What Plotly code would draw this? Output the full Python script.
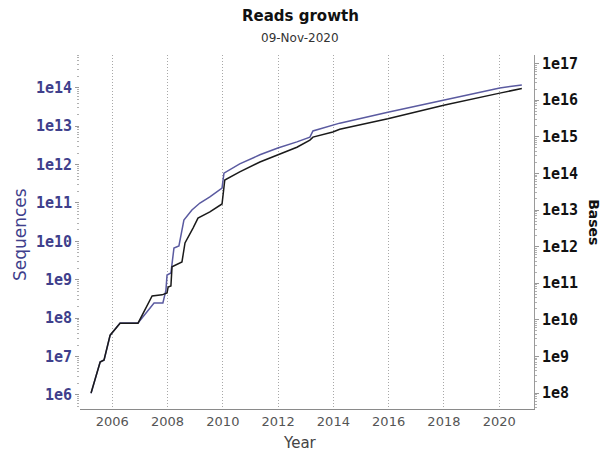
import plotly.graph_objects as go

# Cumulative sequences (left axis)
seq_years = [2005.23, 2005.56, 2005.70, 2005.92, 2006.28, 2006.93, 2007.51, 2007.83,
             2007.94, 2007.98, 2008.12, 2008.23, 2008.41, 2008.59, 2008.88, 2009.17,
             2009.53, 2009.97, 2010.04, 2010.61, 2011.34, 2011.99, 2012.68, 2013.15,
             2013.26, 2013.98, 2014.23, 2015.97, 2017.49, 2018.03, 2020.02, 2020.82]
seq_counts = [1.1e6, 7.3e6, 8.1e6, 3.6e7, 7.5e7, 7.5e7, 2.5e8, 2.5e8,
              5.4e8, 1.33e9, 1.5e9, 6.7e9, 7.6e9, 3.6e10, 6.6e10, 1.0e11,
              1.44e11, 2.46e11, 6.0e11, 1.04e12, 1.8e12, 2.7e12, 3.9e12, 5.2e12,
              7.5e12, 1.07e13, 1.2e13, 2.3e13, 4.0e13, 4.8e13, 9.9e13, 1.18e14]

# Cumulative bases (right axis)
base_years = [2005.23, 2005.56, 2005.70, 2005.92, 2006.28, 2006.93, 2007.44, 2007.80,
              2007.98, 2008.02, 2008.12, 2008.16, 2008.52, 2008.63, 2008.92, 2009.10,
              2009.53, 2009.97, 2010.07, 2010.61, 2011.34, 2011.99, 2012.68, 2013.15,
              2013.26, 2013.98, 2014.23, 2015.97, 2017.49, 2018.03, 2020.02, 2020.82]
base_counts = [1.0e8, 7.0e8, 8.0e8, 3.8e9, 8.1e9, 8.1e9, 4.5e10, 4.8e10,
               5.4e10, 7.9e10, 8.4e10, 2.8e11, 3.8e11, 1.26e12, 3.2e12, 6.0e12,
               8.9e12, 1.46e13, 6.6e13, 1.1e14, 2.05e14, 3.2e14, 5.2e14, 8.1e14,
               9.8e14, 1.35e15, 1.6e15, 3.1e15, 5.8e15, 7.4e15, 1.56e16, 2.1e16]

year_ticks = [2006, 2008, 2010, 2012, 2014, 2016, 2018, 2020]
seq_exponents = list(range(6, 15))
base_exponents = list(range(8, 18))

SEQ_RANGE = [5.635, 14.854]
BASE_RANGE = [7.563, 17.235]

SEQ_COLOR = "#5a5aa0"
SEQ_TEXT = "#3f3f8c"
TICK_GREY = "#999999"


def minor_values(exponents):
    vals = []
    for e in list(exponents) + [exponents[-1] + 1]:
        for m in range(2, 10):
            vals.append(m * 10 ** (e - 1))
    return vals


fig = go.Figure()
fig.add_trace(go.Scatter(x=base_years, y=base_counts, yaxis="y2", mode="lines",
                         line=dict(color="#1a1a1a", width=1.5), name="Bases"))
fig.add_trace(go.Scatter(x=seq_years, y=seq_counts, mode="lines",
                         line=dict(color=SEQ_COLOR, width=1.5), name="Sequences"))

mono = dict(family="DejaVu Sans Mono", size=15, weight="bold")

fig.update_layout(
    width=602, height=452,
    margin=dict(l=80, r=68, t=55, b=43),
    paper_bgcolor="white", plot_bgcolor="white",
    showlegend=False,
    font=dict(family="DejaVu Sans"),
    xaxis=dict(
        range=[2004.83, 2021.26],
        tickvals=year_ticks, ticktext=[str(y) for y in year_ticks],
        tickfont=dict(size=13, color="#555555"),
        showgrid=True, gridcolor="#a8a8a8", griddash="1px,2px", gridwidth=1,
        showline=True, linecolor="#8a8a8a", linewidth=1,
        ticks="", zeroline=False,
    ),
    yaxis=dict(
        type="log", range=SEQ_RANGE,
        tickvals=[10 ** e for e in seq_exponents],
        ticktext=[f"1e{e}" for e in seq_exponents],
        tickfont=dict(mono, color=SEQ_TEXT),
        showgrid=False, zeroline=False, showline=False,
        ticks="outside", ticklen=4, tickcolor=TICK_GREY,
    ),
    yaxis2=dict(
        type="log", range=BASE_RANGE, overlaying="y", side="right",
        tickvals=[10 ** e for e in base_exponents],
        ticktext=[f"1e{e}" for e in base_exponents],
        tickfont=dict(mono, color="#111111"),
        showgrid=False, zeroline=False,
        showline=True, linecolor="#9a9a9a", linewidth=1,
        ticks="outside", ticklen=4, tickcolor=TICK_GREY,
    ),
    # minor log ticks on both value axes
    yaxis3=dict(
        type="log", range=SEQ_RANGE, overlaying="y", side="left",
        tickvals=minor_values(seq_exponents), showticklabels=False,
        showgrid=False, zeroline=False, showline=False,
        ticks="outside", ticklen=2, tickcolor="#b0b0b0",
    ),
    yaxis4=dict(
        type="log", range=BASE_RANGE, overlaying="y", side="right",
        tickvals=minor_values(base_exponents), showticklabels=False,
        showgrid=False, zeroline=False, showline=False,
        ticks="outside", ticklen=2, tickcolor="#b0b0b0",
    ),
    annotations=[
        dict(text="Reads growth", x=0.485, y=1.110, xref="paper", yref="paper",
             xanchor="center", yanchor="middle", showarrow=False,
             font=dict(size=15, color="#111111", weight="bold")),
        dict(text="09-Nov-2020", x=0.485, y=1.048, xref="paper", yref="paper",
             xanchor="center", yanchor="middle", showarrow=False,
             font=dict(size=12, color="#333333")),
        dict(text="Year", x=0.485, y=-0.096, xref="paper", yref="paper",
             xanchor="center", yanchor="middle", showarrow=False,
             font=dict(size=15, color="#444444")),
        dict(text="Sequences", x=-0.132, y=0.4915, xref="paper", yref="paper",
             xanchor="center", yanchor="middle", textangle=-90, showarrow=False,
             font=dict(size=17, color=SEQ_TEXT)),
        dict(text="Bases", x=1.132, y=0.528, xref="paper", yref="paper",
             xanchor="center", yanchor="middle", textangle=90, showarrow=False,
             font=dict(size=14, color="#111111", weight="bold")),
    ],
)

# dummy traces keep the minor-tick axes active
fig.add_trace(go.Scatter(x=[None], y=[None], yaxis="y3", showlegend=False, hoverinfo="skip"))
fig.add_trace(go.Scatter(x=[None], y=[None], yaxis="y4", showlegend=False, hoverinfo="skip"))

fig.write_html("out.html")
